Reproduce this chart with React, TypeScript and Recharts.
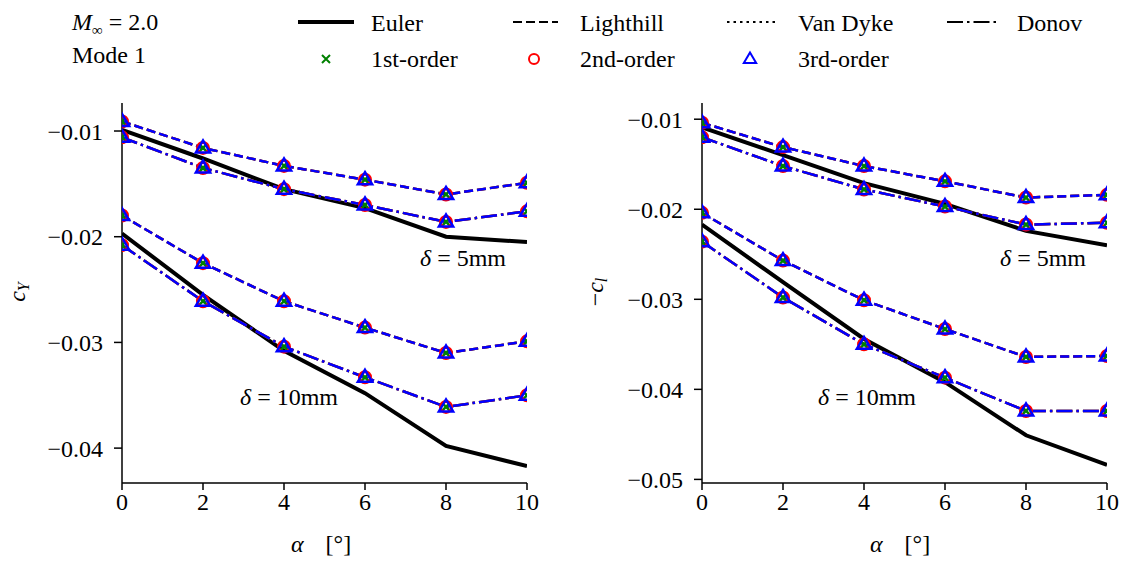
import React from "react";
import { LineChart, Line, XAxis, YAxis } from "recharts";

// angle of attack [deg]
const alpha = [0, 2, 4, 6, 8, 10];

// side force coefficient c_Y
const cyEuler5 = [-0.0099, -0.0126, -0.0155, -0.0173, -0.02, -0.0205];
const cyLighthill5 = [-0.0091, -0.0116, -0.0133, -0.0146, -0.016, -0.0149];
const cyDonov5 = [-0.0106, -0.0135, -0.0155, -0.017, -0.0186, -0.0176];
const cyEuler10 = [-0.0197, -0.0255, -0.0308, -0.0348, -0.0398, -0.0417];
const cyLighthill10 = [-0.018, -0.0225, -0.0261, -0.0286, -0.031, -0.0299];
const cyDonov10 = [-0.0208, -0.0261, -0.0304, -0.0333, -0.0361, -0.035];

// rolling moment coefficient -c_l
const clEuler5 = [-0.0109, -0.014, -0.0171, -0.0194, -0.0224, -0.024];
const clLighthill5 = [-0.0104, -0.0131, -0.0152, -0.0169, -0.0187, -0.0184];
const clDonov5 = [-0.012, -0.0152, -0.0178, -0.0197, -0.0217, -0.0215];
const clEuler10 = [-0.0217, -0.0281, -0.0344, -0.0392, -0.0451, -0.0484];
const clLighthill10 = [-0.0204, -0.0257, -0.0301, -0.0333, -0.0364, -0.0363];
const clDonov10 = [-0.0236, -0.0298, -0.035, -0.0387, -0.0424, -0.0424];

const xTicks = [0, 2, 4, 6, 8, 10];
const cyTicks = [-0.04, -0.03, -0.02, -0.01];
const clTicks = [-0.05, -0.04, -0.03, -0.02, -0.01];

const FONT = "'Liberation Serif', 'Times New Roman', serif";
const FS = 24;

const DASHED = "9 4";
const DOTTED = "2.5 4";
const DASHDOT = "16 4 2.5 4";

const fmt = (v: number) => v.toFixed(2).replace("-", "\u2212");

const build = (series: Record<string, number[]>) =>
  alpha.map((a, i) => {
    const row: Record<string, number> = { alpha: a };
    Object.keys(series).forEach((k) => (row[k] = series[k][i]));
    return row;
  });

const cyData = build({
  e5: cyEuler5,
  l5: cyLighthill5,
  d5: cyDonov5,
  e10: cyEuler10,
  l10: cyLighthill10,
  d10: cyDonov10,
});

const clData = build({
  e5: clEuler5,
  l5: clLighthill5,
  d5: clDonov5,
  e10: clEuler10,
  l10: clLighthill10,
  d10: clDonov10,
});

const crossPath = (x: number, y: number, s: number) =>
  `M${x - s},${y - s}L${x + s},${y + s}M${x - s},${y + s}L${x + s},${y - s}`;
const triPath = (x: number, y: number, s: number) =>
  `M${x},${y - s}L${x + s * 0.95},${y + s * 0.6}L${x - s * 0.95},${y + s * 0.6}Z`;

const CrossDot = (p: any) => {
  if (p.cx == null || p.cy == null) return <g key={`x-${p.dataKey}-${p.index}`} />;
  return (
    <path
      key={`x-${p.dataKey}-${p.index}`}
      d={crossPath(p.cx, p.cy, 4)}
      stroke="#008000"
      strokeWidth={2.5}
      fill="none"
    />
  );
};

const CircleDot = (p: any) => {
  if (p.cx == null || p.cy == null) return <g key={`o-${p.dataKey}-${p.index}`} />;
  return (
    <circle
      key={`o-${p.dataKey}-${p.index}`}
      cx={p.cx}
      cy={p.cy}
      r={5.5}
      stroke="#ff0000"
      strokeWidth={3}
      fill="none"
    />
  );
};

const TriDot = (p: any) => {
  if (p.cx == null || p.cy == null) return <g key={`t-${p.dataKey}-${p.index}`} />;
  return (
    <path
      key={`t-${p.dataKey}-${p.index}`}
      d={triPath(p.cx, p.cy, 7.5)}
      stroke="#0000ff"
      strokeWidth={2.5}
      fill="none"
    />
  );
};

// 1st, 2nd and 3rd order solutions overlap, 3rd order on top
const orders = [
  { key: "1", color: "#008000", dot: CrossDot },
  { key: "2", color: "#ff0000", dot: CircleDot },
  { key: "3", color: "#0000ff", dot: TriDot },
];

const tickStyle = { fill: "#000", fontSize: FS, style: { fontFamily: FONT } };

function Panel({
  data,
  ticks,
  domain,
  left,
}: {
  data: Record<string, number>[];
  ticks: number[];
  domain: [number, number];
  left: number;
}) {
  return (
    <div style={{ position: "absolute", left, top: 0 }}>
      <LineChart
        width={560}
        height={561}
        data={data}
        margin={{ top: 103, right: 33, bottom: 48, left: 62 }}
      >
        <XAxis
          dataKey="alpha"
          type="number"
          domain={[0, 10]}
          ticks={xTicks}
          height={30}
          tickSize={7}
          tickMargin={3}
          stroke="#000"
          strokeWidth={1.5}
          tick={tickStyle}
          allowDataOverflow
        />
        <YAxis
          type="number"
          domain={domain}
          ticks={ticks}
          width={60}
          tickSize={8}
          tickMargin={11}
          stroke="#000"
          strokeWidth={1.5}
          tick={tickStyle}
          tickFormatter={fmt}
          allowDataOverflow
        />
        <Line dataKey="e5" stroke="#000" strokeWidth={4} dot={false} isAnimationActive={false} />
        <Line dataKey="e10" stroke="#000" strokeWidth={4} dot={false} isAnimationActive={false} />
        {["l5", "l10", "d5", "d10"].flatMap((k) =>
          orders.map((o) => (
            <Line
              key={`${k}-${o.key}`}
              dataKey={k}
              stroke={o.color}
              strokeWidth={2.5}
              strokeDasharray={k.startsWith("l") ? DASHED : DASHDOT}
              dot={o.dot}
              isAnimationActive={false}
            />
          ))
        )}
      </LineChart>
    </div>
  );
}

// "δ = ..." label with the wider spacing of math text
function Delta({ x, y, value }: { x: number; y: number; value: string }) {
  return (
    <text x={x} y={y} fontSize={FS} fill="#000" style={{ fontFamily: FONT }}>
      <tspan fontStyle="italic">δ</tspan>
      <tspan dx={6}>=</tspan>
      <tspan dx={6}>{value}</tspan>
    </text>
  );
}

function Overlay() {
  const t = { fontSize: FS, fill: "#000", style: { fontFamily: FONT } } as const;
  const it = { fontStyle: "italic" } as const;
  const r1 = 22;
  const r2 = 59;
  return (
    <svg
      width={1125}
      height={561}
      style={{ position: "absolute", left: 0, top: 0, pointerEvents: "none" }}
    >
      {/* header */}
      <text x={72} y={r1 + 8} {...t}>
        <tspan {...it}>M</tspan>
        <tspan fontSize={15} dy={5}>∞</tspan>
        <tspan dy={-5} dx={6}>=</tspan>
        <tspan dx={6}>2.0</tspan>
      </text>
      <text x={72} y={r2 + 4} {...t}>Mode 1</text>

      {/* legend, first row */}
      <line x1={298} y1={r1} x2={354} y2={r1} stroke="#000" strokeWidth={4} />
      <text x={371} y={r1 + 9} {...t}>Euler</text>
      <line x1={513} y1={r1} x2={558} y2={r1} stroke="#000" strokeWidth={2} strokeDasharray={DASHED} />
      <text x={580} y={r1 + 9} {...t}>Lighthill</text>
      <line x1={727} y1={r1} x2={777} y2={r1} stroke="#000" strokeWidth={2} strokeDasharray={DOTTED} />
      <text x={798} y={r1 + 9} {...t}>Van Dyke</text>
      <line x1={947} y1={r1} x2={998} y2={r1} stroke="#000" strokeWidth={2} strokeDasharray={DASHDOT} />
      <text x={1017} y={r1 + 9} {...t}>Donov</text>

      {/* legend, second row */}
      <path d={crossPath(326, r2, 4)} stroke="#008000" strokeWidth={2} fill="none" />
      <text x={371} y={r2 + 8} {...t}>1st-order</text>
      <circle cx={534} cy={r2} r={5} stroke="#ff0000" strokeWidth={2} fill="none" />
      <text x={580} y={r2 + 8} {...t}>2nd-order</text>
      <path d={triPath(750, r2, 6.5)} stroke="#0000ff" strokeWidth={2} fill="none" />
      <text x={798} y={r2 + 8} {...t}>3rd-order</text>

      {/* axis labels */}
      <text transform="translate(25,292) rotate(-90)" textAnchor="middle" {...t}>
        <tspan {...it}>c</tspan>
        <tspan {...it} fontSize={16} dy={4}>Y</tspan>
      </text>
      <text transform="translate(603,292) rotate(-90)" textAnchor="middle" {...t}>
        <tspan>{"\u2212"}</tspan>
        <tspan {...it}>c</tspan>
        <tspan {...it} fontSize={16} dy={4}>l</tspan>
      </text>
      <text x={291} y={552} {...t}>
        <tspan {...it}>α</tspan>
        <tspan dx={22}>[°]</tspan>
      </text>
      <text x={870} y={552} {...t}>
        <tspan {...it}>α</tspan>
        <tspan dx={22}>[°]</tspan>
      </text>

      {/* curve annotations */}
      <Delta x={420} y={266} value="5mm" />
      <Delta x={240} y={405} value="10mm" />
      <Delta x={1000} y={266} value="5mm" />
      <Delta x={818} y={405} value="10mm" />
    </svg>
  );
}

export default function App() {
  return (
    <div
      style={{
        position: "fixed",
        left: 0,
        top: 0,
        width: 1125,
        height: 561,
        background: "#fff",
        overflow: "hidden",
      }}
    >
      <Panel data={cyData} ticks={cyTicks} domain={[-0.0433, -0.00735]} left={0} />
      <Panel data={clData} ticks={clTicks} domain={[-0.0504, -0.0082]} left={580} />
      <Overlay />
    </div>
  );
}
